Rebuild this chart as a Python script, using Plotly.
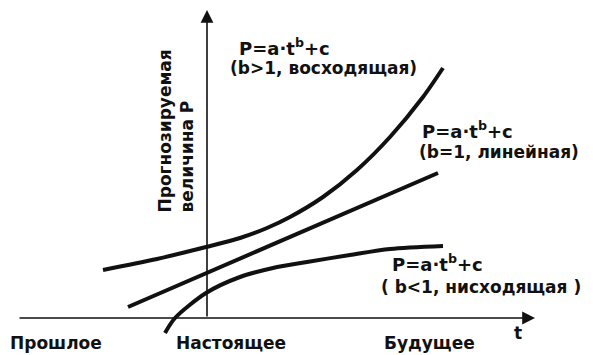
import plotly.graph_objects as go

# chart units: t = time (0 = present), P = forecast value
t_rising = [-1.04, -0.50, -0.01, 0.33, 0.60, 0.83, 1.16, 1.50, 1.83, 2.16, 2.36]
p_rising = [0.48, 0.59, 0.71, 0.80, 0.90, 1.01, 1.21, 1.48, 1.81, 2.21, 2.50]

t_linear = [-0.79, 2.31]
p_linear = [0.11, 1.45]

t_falling = [-0.42, -0.32, -0.01, 0.33, 0.66, 1.00, 1.43, 1.83, 2.36]
p_falling = [-0.15, 0.00, 0.25, 0.41, 0.50, 0.56, 0.63, 0.69, 0.72]

period_labels = ["Прошлое", "Настоящее", "Будущее"]
formula = "P=a·t<sup>b</sup>+c"
curve_notes = ["(b>1, восходящая)", "(b=1, линейная)", "( b<1, нисходящая )"]
y_title = "Прогнозируемая<br>величина P"

INK = "#111111"
FONT = "DejaVu Sans"

fig = go.Figure()
for tx, py in [(t_rising, p_rising), (t_linear, p_linear), (t_falling, p_falling)]:
    fig.add_trace(go.Scatter(
        x=tx, y=py, mode="lines",
        line=dict(color=INK, width=4, shape="spline", smoothing=0.8),
        hoverinfo="skip",
    ))

annotations = []

# axes drawn as arrows
annotations.append(dict(x=3.28, y=0, ax=-1.89, ay=0, axref="x", ayref="y",
                        text="", showarrow=True, arrowhead=2, arrowsize=1.6,
                        arrowwidth=1.6, arrowcolor=INK))
annotations.append(dict(x=0, y=3.08, ax=0, ay=0, axref="x", ayref="y",
                        text="", showarrow=True, arrowhead=2, arrowsize=1.6,
                        arrowwidth=1.6, arrowcolor=INK))


def label(text, x, y, size=17, **kw):
    d = dict(text=text, x=x, y=y, xanchor="left", yanchor="middle",
             showarrow=False,
             font=dict(family=FONT, size=size, color=INK, weight="bold"))
    d.update(kw)
    annotations.append(d)


# formulas next to the curves
label(formula, 0.30, 2.71, size=18)
label(curve_notes[0], 0.21, 2.50)
label(formula, 2.13, 1.88, size=18)
label(curve_notes[1], 2.10, 1.66)
label(formula, 1.83, 0.55, size=18)
label(curve_notes[2], 1.72, 0.31)

# time periods
label(period_labels[0], -1.99, -0.25)
label(period_labels[1], -0.33, -0.25)
label(period_labels[2], 1.75, -0.25)
label("t", 3.05, -0.15)

# rotated axis title
annotations.append(dict(text=y_title, x=-0.32, y=1.03, xanchor="center",
                        yanchor="bottom", textangle=-90, align="left",
                        showarrow=False,
                        font=dict(family=FONT, size=17, color=INK, weight="bold")))

# the page body adds an 8px margin, so the figure covers the rest of the window
fig.update_layout(
    width=585, height=347,
    margin=dict(l=0, r=0, t=0, b=0),
    paper_bgcolor="white", plot_bgcolor="white",
    showlegend=False,
    xaxis=dict(visible=False, range=[-1.99, 3.86]),
    yaxis=dict(visible=False, range=[-0.37, 3.10]),
    annotations=annotations,
)

fig.write_html("out.html")
